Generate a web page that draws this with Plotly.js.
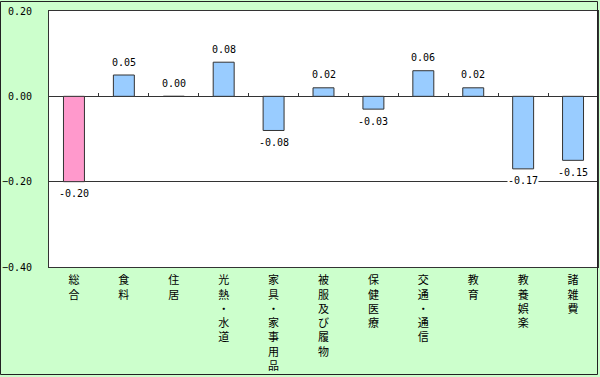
<!DOCTYPE html>
<html>
<head>
<meta charset="utf-8">
<script src="https://cdn.plot.ly/plotly-3.0.1.min.js"></script>
<style>html,body{margin:0;padding:0;background:#ccffcc;}#chart{width:600px;height:377px;}</style>
</head>
<body>
<div id="chart"></div>
<script>
const categories = ["総合","食料","住居","光熱・水道","家具・家事用品","被服及び履物","保健医療","交通・通信","教育","教養娯楽","諸雑費"];
const values = [-0.20, 0.05, 0.00, 0.08, -0.08, 0.02, -0.03, 0.06, 0.02, -0.17, -0.15];
const barColors = ["#ff99cc","#99ccff","#99ccff","#99ccff","#99ccff","#99ccff","#99ccff","#99ccff","#99ccff","#99ccff","#99ccff"];
const yTickVals = [-0.4, -0.2, 0, 0.2];

const tickText = categories.map(c => Array.from(c).join('<br>'));
const numFont = {family: 'DejaVu Sans Mono, monospace', size: 10, color: '#000'};

const traces = [
  {
    type: 'bar', x: categories, y: values,
    width: 0.42,
    marker: {color: barColors, line: {color: '#333333', width: 1}},
    hoverinfo: 'skip', showlegend: false
  },
  {
    type: 'scatter', x: categories, y: values, xaxis: 'x2', yaxis: 'y',
    mode: 'none', hoverinfo: 'skip', showlegend: false
  }
];

const annotations = categories.map((c, i) => ({
  x: c, y: values[i], xref: 'x', yref: 'y',
  text: values[i].toFixed(2),
  showarrow: false,
  yanchor: 'middle',
  yshift: values[i] >= 0 ? 13 : -12,
  font: numFont,
  bgcolor: values[i] < 0 ? '#ffffff' : 'rgba(0,0,0,0)',
  borderpad: 0
}));

const layout = {
  width: 600, height: 377,
  margin: {l: 49, r: 2, t: 11, b: 110},
  paper_bgcolor: '#ccffcc',
  plot_bgcolor: '#ffffff',
  bargap: 0.58,
  xaxis: {
    type: 'category', tickvals: categories, ticktext: tickText,
    range: [-0.5, 10.5],
    showline: true, linecolor: '#333', linewidth: 1, mirror: true,
    ticks: '', showgrid: false, zeroline: false,
    tickfont: {family: 'Noto Sans CJK JP', size: 11, color: '#000'},
    ticklabelstandoff: 3,
    tickangle: 0, fixedrange: true
  },
  xaxis2: {
    type: 'category', overlaying: 'x', anchor: 'free', position: 2/3,
    range: [-0.5, 10.5], tickson: 'boundaries',
    ticks: 'inside', ticklen: 3, tickcolor: '#333', tickwidth: 1,
    showticklabels: false, showgrid: false, showline: false, zeroline: false
  },
  yaxis: {
    range: [-0.4, 0.2], tickvals: yTickVals, tickformat: '.2f',
    showline: true, linecolor: '#333', linewidth: 1, mirror: true,
    showgrid: true, gridcolor: '#333', gridwidth: 1,
    zeroline: true, zerolinecolor: '#333', zerolinewidth: 1,
    ticks: '', tickfont: numFont, ticklabelstandoff: 14, fixedrange: true
  },
  annotations: annotations,
  shapes: [{
    type: 'rect', xref: 'paper', yref: 'paper',
    x0: -48.5/549, x1: 548.5/549, y0: -107.5/256, y1: 265.5/256,
    line: {color: '#222', width: 1}, fillcolor: 'rgba(0,0,0,0)', layer: 'above'
  }]
};

Plotly.newPlot('chart', traces, layout, {displayModeBar: false, staticPlot: true});
</script>
</body>
</html>
